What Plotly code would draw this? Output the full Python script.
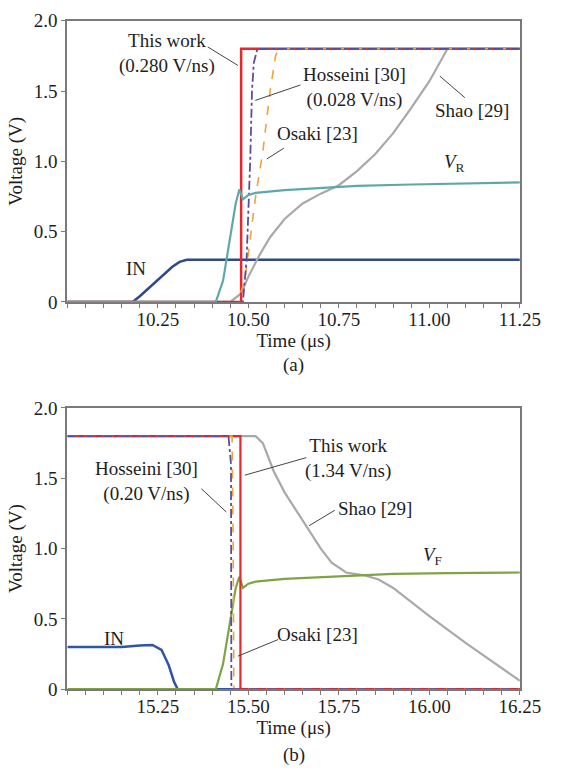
import plotly.graph_objects as go

# ---------------- (a) rising edge ----------------
a_in_t = [10.00, 10.18, 10.20, 10.23, 10.26, 10.29, 10.31, 10.33, 11.25]
a_in_v = [0.0, 0.0, 0.04, 0.11, 0.18, 0.25, 0.285, 0.30, 0.30]

a_vr_t = [10.00, 10.41, 10.43, 10.45, 10.465, 10.475, 10.485, 10.50, 10.52, 10.60, 10.70, 10.80, 10.95, 11.10, 11.25]
a_vr_v = [0.0, 0.0, 0.15, 0.45, 0.70, 0.80, 0.73, 0.76, 0.775, 0.795, 0.81, 0.825, 0.835, 0.845, 0.85]

a_shao_t = [10.00, 10.45, 10.48, 10.50, 10.53, 10.56, 10.60, 10.65, 10.70, 10.75, 10.80, 10.85, 10.90, 10.95, 11.00, 11.03, 11.05, 11.25]
a_shao_v = [0.0, 0.0, 0.06, 0.18, 0.33, 0.46, 0.59, 0.70, 0.77, 0.83, 0.93, 1.05, 1.20, 1.38, 1.57, 1.71, 1.80, 1.80]

a_osaki_t = [10.00, 10.47, 10.49, 10.50, 10.52, 10.54, 10.56, 10.575, 10.585, 11.25]
a_osaki_v = [0.0, 0.0, 0.15, 0.35, 0.75, 1.07, 1.50, 1.75, 1.80, 1.80]

a_hoss_t = [10.00, 10.485, 10.495, 10.505, 10.51, 10.515, 10.525, 11.25]
a_hoss_v = [0.0, 0.0, 0.30, 1.00, 1.50, 1.70, 1.80, 1.80]

a_this_t = [10.00, 10.48, 10.48, 11.25]
a_this_v = [0.0, 0.0, 1.80, 1.80]

# ---------------- (b) falling edge ----------------
b_in_t = [15.00, 15.15, 15.20, 15.235, 15.26, 15.28, 15.295, 15.305, 16.25]
b_in_v = [0.30, 0.30, 0.31, 0.315, 0.28, 0.17, 0.05, 0.0, 0.0]

b_vf_t = [15.00, 15.41, 15.43, 15.45, 15.465, 15.475, 15.485, 15.50, 15.52, 15.60, 15.75, 15.90, 16.05, 16.25]
b_vf_v = [0.0, 0.0, 0.18, 0.50, 0.72, 0.80, 0.72, 0.75, 0.765, 0.785, 0.805, 0.82, 0.825, 0.83]

b_shao_t = [15.00, 15.52, 15.54, 15.57, 15.60, 15.65, 15.70, 15.73, 15.77, 15.82, 15.86, 15.90, 16.00, 16.10, 16.20, 16.25]
b_shao_v = [1.80, 1.80, 1.75, 1.55, 1.40, 1.20, 1.00, 0.90, 0.83, 0.81, 0.78, 0.72, 0.52, 0.33, 0.15, 0.06]

b_osaki_t = [15.00, 15.455, 15.458, 15.46, 16.25]
b_osaki_v = [1.80, 1.80, 1.00, 0.0, 0.0]

b_hoss_t = [15.00, 15.445, 15.452, 15.453, 16.25]
b_hoss_v = [1.80, 1.80, 1.60, 0.0, 0.0]

b_this_t = [15.00, 15.478, 15.478, 16.25]
b_this_v = [1.80, 1.80, 0.0, 0.0]

x_ticks_a = [10.25, 10.50, 10.75, 11.00, 11.25]
x_ticks_b = [15.25, 15.50, 15.75, 16.00, 16.25]
y_ticks = [0, 0.5, 1.0, 1.5, 2.0]
y_tick_text = ["0", "0.5", "1.0", "1.5", "2.0"]

C_THIS = "#e8262c"
C_HOSS = "#5b4d9e"
C_OSAKI = "#f2a23c"
C_SHAO = "#a9a9a9"
C_VR = "#5ea9a8"
C_IN_A = "#2e4a8a"
C_VF = "#7ea443"
C_IN_B = "#3154a6"

FONT = "Liberation Serif, Times New Roman, serif"
W, H = 563, 780

fig = go.Figure()


def add(t, v, color, width, dash, xa, ya):
    fig.add_trace(go.Scatter(x=t, y=v, mode="lines", xaxis=xa, yaxis=ya,
                             line=dict(color=color, width=width, dash=dash),
                             showlegend=False, hoverinfo="skip"))


# panel (a)
add(a_in_t, a_in_v, C_IN_A, 2.5, "solid", "x", "y")
add(a_shao_t, a_shao_v, C_SHAO, 2.2, "solid", "x", "y")
add(a_this_t, a_this_v, C_THIS, 2.5, "solid", "x", "y")
add(a_osaki_t, a_osaki_v, C_OSAKI, 1.6, "dash", "x", "y")
add(a_hoss_t, a_hoss_v, C_HOSS, 1.8, "dashdot", "x", "y")
add(a_vr_t, a_vr_v, C_VR, 2.2, "solid", "x", "y")

# panel (b)
add(b_in_t, b_in_v, C_IN_B, 2.5, "solid", "x2", "y2")
add(b_shao_t, b_shao_v, C_SHAO, 2.2, "solid", "x2", "y2")
add(b_vf_t, b_vf_v, C_VF, 2.2, "solid", "x2", "y2")
add(b_this_t, b_this_v, C_THIS, 2.2, "solid", "x2", "y2")
add(b_osaki_t, b_osaki_v, C_OSAKI, 1.6, "dash", "x2", "y2")
add(b_hoss_t, b_hoss_v, C_HOSS, 1.8, "dashdot", "x2", "y2")

# plot-area placement (pixels from top-left of the page)
PL, PR = 70, 540
A_TOP, A_BOT = 11, 300
B_TOP, B_BOT = 409, 698


def xdom():
    return [PL / W, PR / W]


def ydom(top, bot):
    return [1 - bot / H, 1 - top / H]


TXT = "#1e1e1e"
axis_common = dict(showline=True, linecolor="#7a7a7a", linewidth=2, mirror=True,
                   showgrid=False, zeroline=False, ticks="outside", ticklen=4,
                   tickcolor="#7a7a7a", tickfont=dict(family=FONT, size=19, color=TXT))


def xaxis(rng, ticks, anchor):
    return dict(axis_common, domain=xdom(), range=rng, anchor=anchor,
                tickvals=ticks, ticktext=["%.2f" % t for t in ticks],
                ticklabelstandoff=-5,
                minor=dict(dtick=0.05, tick0=rng[0], ticks="outside", ticklen=4,
                           tickcolor="#7a7a7a"),
                title=dict(text="Time (μs)", font=dict(family=FONT, size=19, color=TXT),
                           standoff=0))


def yaxis(top, bot, anchor):
    return dict(axis_common, domain=ydom(top, bot), range=[0, 2.0], anchor=anchor,
                tickvals=y_ticks, ticktext=y_tick_text,
                title=dict(text="Voltage (V)", font=dict(family=FONT, size=19, color=TXT),
                           standoff=6))


fig.update_layout(
    width=W, height=H, margin=dict(l=0, r=0, t=0, b=0),
    paper_bgcolor="white", plot_bgcolor="white",
    xaxis=xaxis([10.0, 11.25], x_ticks_a, "y"),
    yaxis=yaxis(A_TOP, A_BOT, "x"),
    xaxis2=xaxis([15.0, 16.25], x_ticks_b, "y2"),
    yaxis2=yaxis(B_TOP, B_BOT, "x2"),
    font=dict(family=FONT, size=19, color=TXT),
)

tf = dict(family=FONT, size=19, color=TXT)


def label(text, x, y, xr, yr):
    fig.add_annotation(text=text, x=x, y=y, xref=xr, yref=yr, showarrow=False,
                       font=tf, align="center")


def pointer(x0, y0, x1, y1, xr, yr):
    fig.add_shape(type="line", x0=x0, y0=y0, x1=x1, y1=y1, xref=xr, yref=yr,
                  line=dict(color="#444", width=1))


# labels for (a)
label("This work<br>(0.280 V/ns)", 10.274, 1.765, "x", "y")
pointer(10.388, 1.813, 10.471, 1.682, "x", "y")
label("Hosseini [30]<br>(0.028 V/ns)", 10.793, 1.522, "x", "y")
pointer(10.644, 1.543, 10.519, 1.433, "x", "y")
label("Osaki [23]", 10.691, 1.197, "x", "y")
pointer(10.598, 1.093, 10.551, 1.017, "x", "y")
label("Shao [29]", 11.117, 1.363, "x", "y")
pointer(11.029, 1.606, 11.098, 1.453, "x", "y")
label("<i>V</i><sub>R</sub>", 11.069, 0.99, "x", "y")
label("IN", 10.189, 0.235, "x", "y")

# labels for (b)
label("This work<br>(1.34 V/ns)", 15.774, 1.64, "x2", "y2")
pointer(15.66, 1.647, 15.49, 1.522, "x2", "y2")
label("Hosseini [30]<br>(0.20 V/ns)", 15.218, 1.474, "x2", "y2")
pointer(15.37, 1.426, 15.439, 1.26, "x2", "y2")
label("Shao [29]", 15.851, 1.287, "x2", "y2")
pointer(15.739, 1.273, 15.668, 1.163, "x2", "y2")
label("<i>V</i><sub>F</sub>", 16.008, 0.948, "x2", "y2")
label("Osaki [23]", 15.691, 0.388, "x2", "y2")
pointer(15.582, 0.353, 15.471, 0.235, "x2", "y2")
label("IN", 15.13, 0.36, "x2", "y2")

# sub-figure captions
for cap, ypx in (("(a)", 365), ("(b)", 766)):
    fig.add_annotation(text=cap, x=(PL + PR) / 2 / W, y=1 - ypx / H, xref="paper",
                       yref="paper", xanchor="center", yanchor="middle",
                       showarrow=False, font=tf)

fig.write_html("out.html")
